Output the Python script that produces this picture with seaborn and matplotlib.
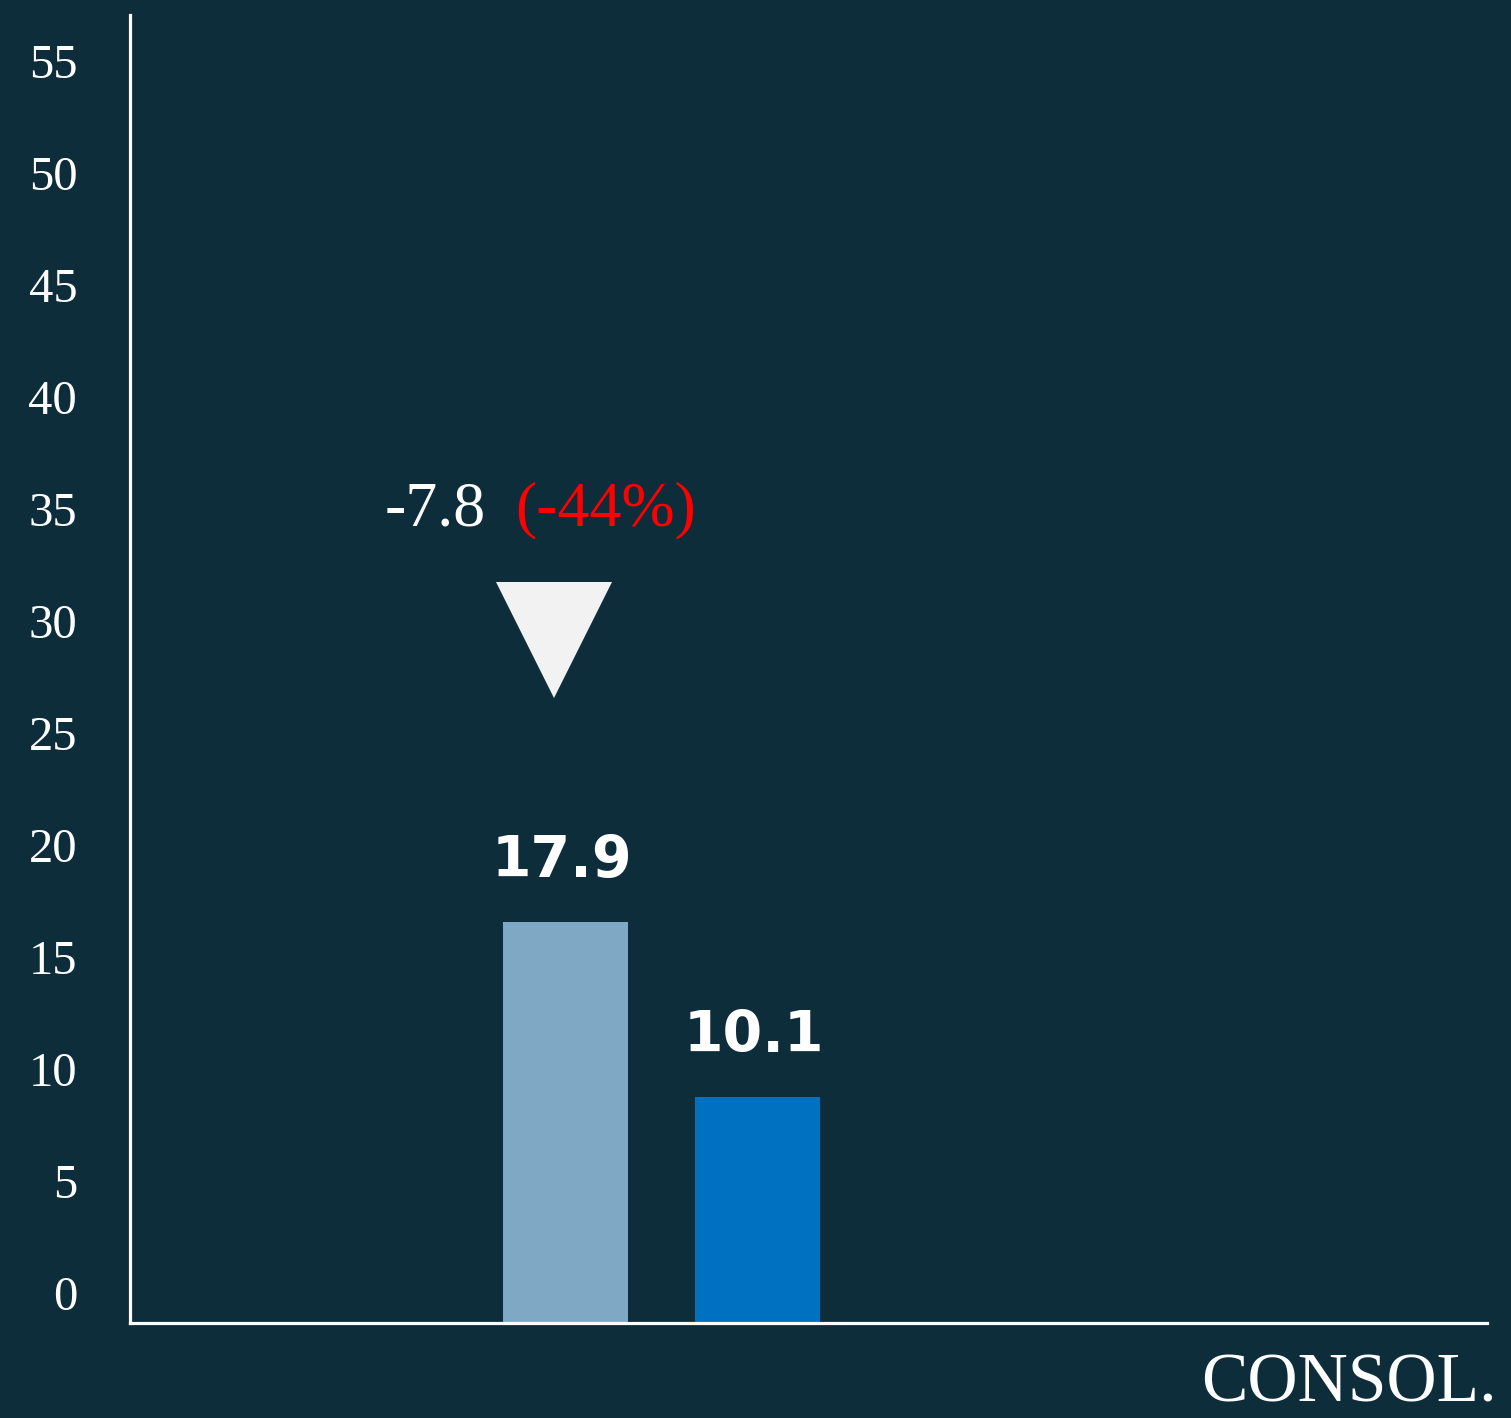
import matplotlib
matplotlib.use("Agg")
import matplotlib.pyplot as plt
import matplotlib.transforms as mtransforms
import seaborn as sns
import pandas as pd

# ---- data ----
periods = ["Prior", "Current"]
values = [17.9, 10.1]
value_labels = ["17.9", "10.1"]
bar_colors = ["#7fa8c4", "#0070c0"]
y_ticks = [0, 5, 10, 15, 20, 25, 30, 35, 40, 45, 50, 55]
delta_abs = "-7.8"
delta_pct = "(-44%)"
segment_label = "CONSOL."

BG = "#0e2d3b"
sns.set_theme(style="white")
plt.rcParams["font.family"] = ["Liberation Serif", "DejaVu Serif"]

fig = plt.figure(figsize=(15.11, 14.18), dpi=100, facecolor=BG)
ax = fig.add_axes([130 / 1511, 95 / 1418, (1487 - 130) / 1511, (1323 - 15) / 1418])
ax.set_facecolor(BG)

df = pd.DataFrame({"period": periods, "value": values})
sns.barplot(data=df, x="period", y="value", hue="period", palette=bar_colors,
            width=0.65, saturation=1, legend=False, ax=ax, linewidth=0)

ax.set_xlim(-2.268, 4.80)
ax.set_ylim(0, 58.4)

# spines
for s in ["top", "right"]:
    ax.spines[s].set_visible(False)
for s in ["left", "bottom"]:
    ax.spines[s].set_color("white")
    ax.spines[s].set_linewidth(2.3)

ax.set_xticks([])
ax.set_xlabel("")
ax.set_ylabel("")
ax.set_yticks(y_ticks)
ax.set_yticklabels([str(t) for t in y_ticks])
ax.tick_params(axis="y", length=0, pad=38, labelsize=35, labelcolor="white")
offset = mtransforms.ScaledTranslation(0, 30 / 100, fig.dpi_scale_trans)
for lab in ax.get_yticklabels():
    lab.set_transform(lab.get_transform() + offset)

# value labels
for i, (v, lab) in enumerate(zip(values, value_labels)):
    ax.text(i - 0.02, v + 2.0, lab, ha="center", va="baseline",
            fontsize=41, fontweight="bold", color="white", family="DejaVu Sans")

# change annotation
ax.plot([-0.06], [30.5], marker="v", markersize=84, color="#f2f2f2",
        markeredgewidth=0, linestyle="none")
ax.text(-0.94, 35.6, delta_abs, ha="left", va="baseline", fontsize=46, color="white")
ax.text(-0.263, 35.6, delta_pct, ha="left", va="baseline", fontsize=46, color="#ff0000")

fig.text(1497 / 1511, 2 / 1418, segment_label, ha="right", va="bottom",
         fontsize=50, color="white")

fig.savefig("out.png", dpi=100, facecolor=BG)
